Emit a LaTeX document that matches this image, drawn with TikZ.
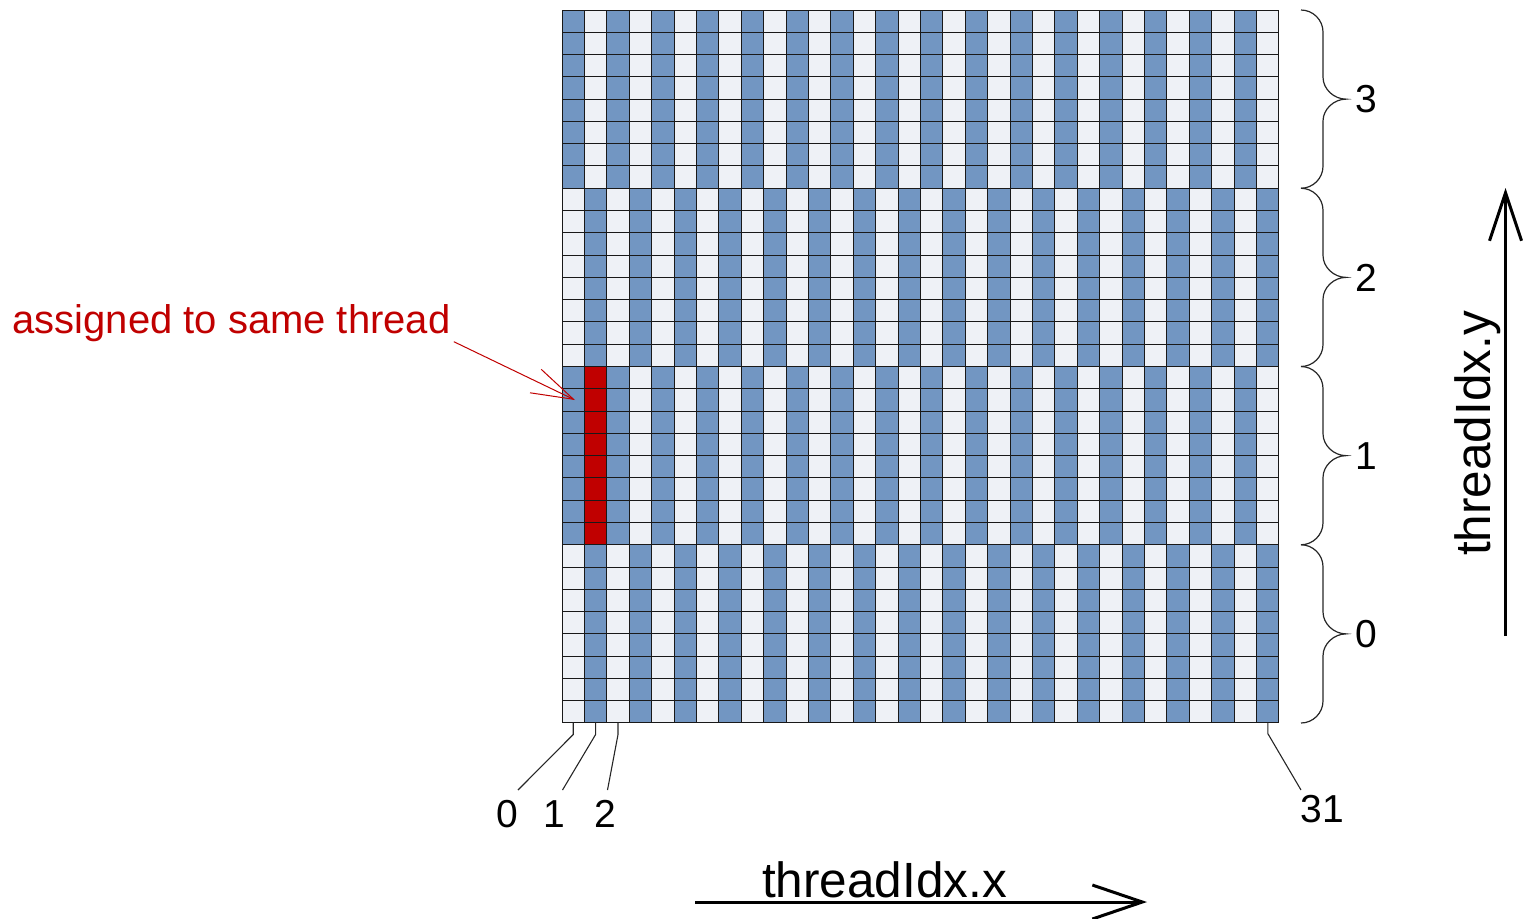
\documentclass[tikz,border=0pt]{standalone}
\usepackage{fontspec}
\setmainfont{Liberation Sans}
\usetikzlibrary{arrows.meta}
\definecolor{cellblue}{RGB}{114,150,194}
\definecolor{celllight}{RGB}{238,241,246}
\definecolor{cellred}{RGB}{192,0,0}
\begin{document}
\begin{tikzpicture}[x=0.5pt,y=-0.5pt,
  gridline/.style={draw=black!90, line width=0.5pt, line cap=rect},
  digit/.style={font=\fontsize{19.5}{23}\selectfont, inner sep=0pt},
  axislabel/.style={font=\fontsize{24.75}{30}\selectfont, inner sep=0pt},
  tickline/.style={draw=black!85, line width=0.55pt},
  bracepath/.style={draw=black!85, line width=0.6pt},
  axisarrow/.style={draw=black, line width=1.5pt},
  notearrow/.style={draw=cellred, line width=0.5pt, -{Straight Barb[length=21pt,width=13pt]}},
]
\useasboundingbox (0,0) rectangle (1531,918);

% 32 x 32 array of elements, four bands of eight rows;
% cell edges are snapped to whole units so every rule is equally crisp
\def\gx{562}\def\gy{10}\def\cw{22.406}\def\ch{22.281}
\foreach \r in {0,...,31}{
  \foreach \c in {0,...,31}{
    \pgfmathtruncatemacro\blk{3-floor(\r/8)}
    \pgfmathtruncatemacro\odd{mod(\c+\blk,2)}
    \pgfmathsetmacro\xl{floor(\gx+\c*\cw)+0.5}
    \pgfmathsetmacro\xr{floor(\gx+(\c+1)*\cw)+0.5}
    \pgfmathsetmacro\yt{floor(\gy+\r*\ch)+0.5}
    \pgfmathsetmacro\yb{floor(\gy+(\r+1)*\ch)+0.5}
    \def\cellcol{celllight}
    \ifnum\odd=1 \def\cellcol{cellblue}\fi
    \ifnum\blk=1 \ifnum\c=1 \def\cellcol{cellred}\fi\fi
    \fill[\cellcol] (\xl,\yt) rectangle (\xr,\yb);
  }
}
\pgfmathsetmacro\gxr{floor(\gx+32*\cw)+0.5}
\pgfmathsetmacro\gyb{floor(\gy+32*\ch)+0.5}
\foreach \i in {0,...,32}{
  \pgfmathsetmacro\xx{floor(\gx+\i*\cw)+0.5}
  \pgfmathsetmacro\yy{floor(\gy+\i*\ch)+0.5}
  \draw[gridline] (\xx,\gy+0.5) -- (\xx,\gyb);
  \draw[gridline] (\gx+0.5,\yy) -- (\gxr,\yy);
}

% column indices below the array
\coordinate (col0) at ({\gx+0.5*\cw},\gyb);
\coordinate (col1) at ({\gx+1.5*\cw},\gyb);
\coordinate (col2) at ({\gx+2.5*\cw},\gyb);
\coordinate (col31) at ({\gx+31.5*\cw},\gyb);
\coordinate (k0) at (518,790);
\coordinate (k1) at (562.5,790);
\coordinate (k2) at (607.5,790);
\coordinate (k31) at (1301,790);
\node[digit] (x0) at (507,814) {0};
\node[digit] (x1) at (554,814) {1};
\node[digit] (x2) at (605,814) {2};
\node[digit] (x31) at (1322,809) {31};
\draw[tickline] (col0) -- ++(0,12) -- (k0);
\draw[tickline] (col1) -- ++(0,12) -- (k1);
\draw[tickline] (col2) -- ++(0,12) -- (k2);
\draw[tickline] (col31) -- ++(0,11) -- (k31);

% braces for the row bands
\foreach \t/\lab/\nm in {10/3/b3, 188.25/2/b2, 366.5/1/b1, 544.75/0/b0}{
  \pgfmathsetmacro\m{\t+89.125}
  \pgfmathsetmacro\b{\t+178.25}
  \draw[bracepath] (1301,\t) .. controls (1313,\t) and (1323,{\t+10}) .. (1323,{\t+22})
     -- (1323,{\m-22}) .. controls (1323,{\m-10}) and (1334,\m) .. (1346,\m)
     .. controls (1334,\m) and (1323,{\m+10}) .. (1323,{\m+22})
     -- (1323,{\b-22}) .. controls (1323,{\b-10}) and (1313,\b) .. (1301,\b);
  \node[digit] (\nm) at (1366,\m) {\lab};
}

% highlighted column
\node[font=\fontsize{20}{24}\selectfont, text=cellred, inner sep=0pt, anchor=base west] (note) at (12,333) {assigned to same thread};
\coordinate (hit) at (575,400);
\draw[notearrow] ([xshift=1.5pt]note.south east) -- (hit);

% axes
\coordinate (xa) at (695,902);
\coordinate (xb) at (1147,902);
\draw[axisarrow, -{Straight Barb[length=25pt,width=17pt]}] (xa) -- (xb);
\node[axislabel, anchor=base] (xl) at (884.5,897) {threadIdx.x};
\coordinate (ya) at (1505.5,636);
\coordinate (yb) at (1505.5,188);
\draw[axisarrow, -{Straight Barb[length=24pt,width=16pt]}] (ya) -- (yb);
\node[axislabel, anchor=base, rotate=90] (yl) at (1490,433.5) {threadIdx.y};
\end{tikzpicture}
\end{document}
